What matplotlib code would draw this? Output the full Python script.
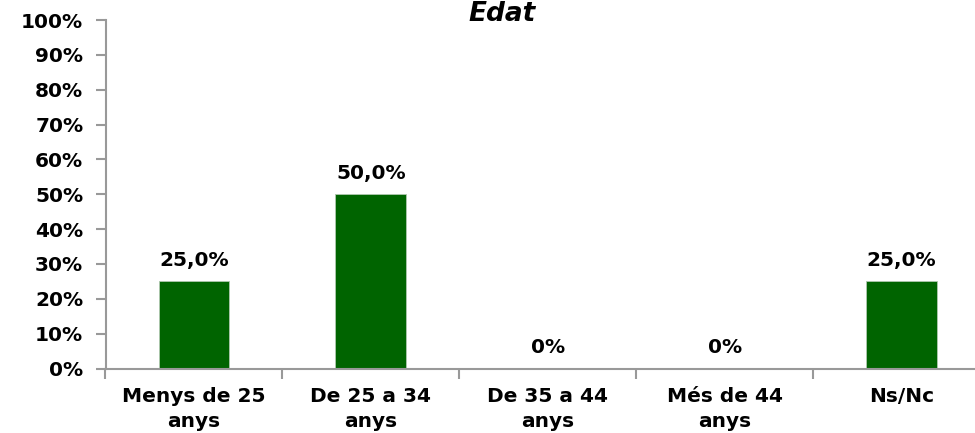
import numpy as np
import matplotlib.pyplot as plt

categories = ["Menys de 25\nanys", "De 25 a 34\nanys", "De 35 a 44\nanys", "Més de 44\nanys", "Ns/Nc"]
values = [25.0, 50.0, 0.0, 0.0, 25.0]
value_labels = ["25,0%", "50,0%", "0%", "0%", "25,0%"]
y_ticks = list(range(0, 101, 10))

plt.rcParams["font.family"] = ["DejaVu Sans"]
FS = 14.5

fig = plt.figure(figsize=(9.75, 4.33), dpi=100)
ax = fig.add_axes([105.5 / 975, 64.5 / 433, 884.5 / 975, 348.5 / 433])

x = np.arange(len(categories))
ax.bar(x, values, width=0.4, color="#006400", edgecolor="#b0c8b0", linewidth=0.6, zorder=2)

for xi, v, lab in zip(x, values, value_labels):
    ax.annotate(lab, (xi, v), xytext=(0, 8), textcoords="offset points",
                ha="center", va="bottom", fontsize=FS, fontweight="bold")

ax.set_xlim(-0.5, len(categories) - 0.5)
ax.set_ylim(0, 100)
ax.set_yticks(y_ticks)
ax.set_yticklabels([f"{t}%" for t in y_ticks], fontsize=FS, fontweight="bold")

ax.set_xticks(x)
ax.set_xticklabels(categories, fontsize=FS, fontweight="bold", linespacing=1.45)
ax.set_xticks(np.arange(len(categories) + 1) - 0.5, minor=True)
ax.tick_params(axis="x", which="major", length=0, pad=13)
ax.tick_params(axis="x", which="minor", length=7, color="#999999", width=1.5)
ax.tick_params(axis="y", length=7, color="#999999", width=1.5, pad=9)

for side in ["top", "right"]:
    ax.spines[side].set_visible(False)
for side in ["left", "bottom"]:
    ax.spines[side].set_color("#999999")
    ax.spines[side].set_linewidth(1.5)

fig.text(502 / 975, 1 - 14 / 433, "Edat", ha="center", va="center",
         fontsize=19, fontweight="bold", fontstyle="italic")

fig.savefig("out.png", dpi=100)
